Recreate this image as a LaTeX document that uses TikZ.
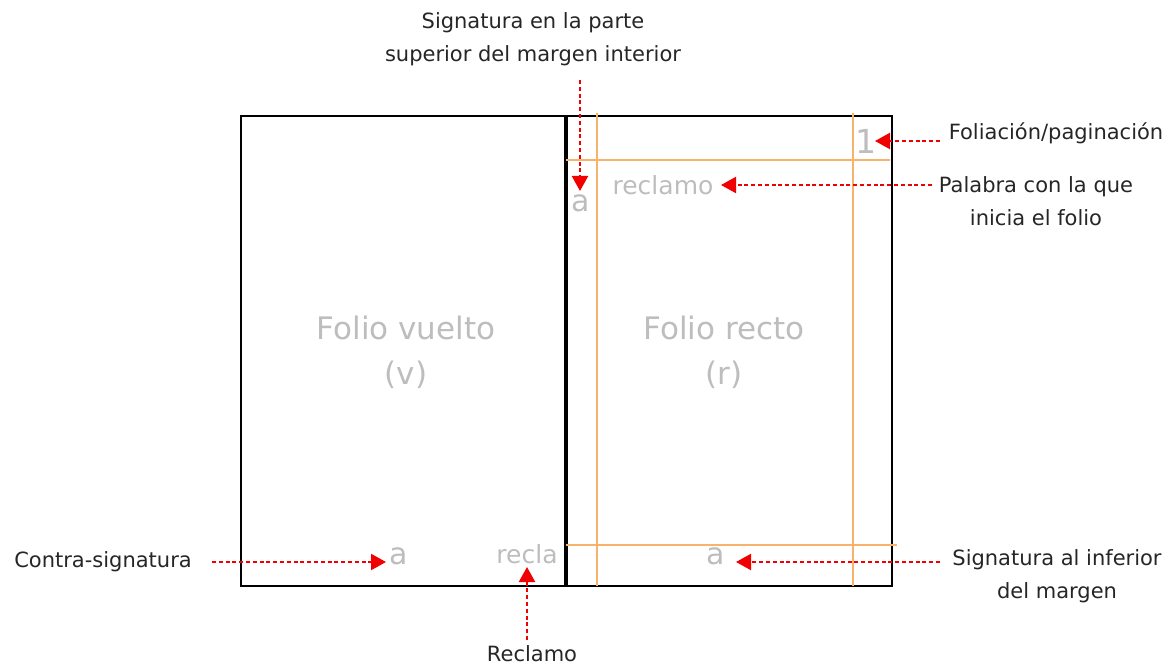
\documentclass[tikz,border=0pt]{standalone}
\usepackage{fontspec}
\setmainfont{DejaVu Sans}
\usetikzlibrary{arrows.meta}
\definecolor{guia}{HTML}{F7B26B}
\definecolor{tenue}{HTML}{BDBDBD}
\definecolor{flecha}{HTML}{F00000}
\tikzset{
  etiqueta/.style={font=\fontsize{21}{33}\selectfont, text=black!85, align=center, inner sep=0pt},
  marca/.style={font=\fontsize{30}{34}\selectfont, text=tenue, inner sep=0pt},
  palabra/.style={font=\fontsize{25}{30}\selectfont, text=tenue, inner sep=0pt},
  titulo/.style={font=\fontsize{31}{45}\selectfont, text=tenue, align=center, inner sep=0pt},
  llamada/.style={flecha, line width=2.2pt, dash pattern=on 4pt off 2.8pt,
    -{Triangle[length=15pt,width=16pt]}},
}
\begin{document}
\begin{tikzpicture}[x=1pt, y=-1pt]
        \useasboundingbox (0,0) rectangle (1173,666);

        % Hojas
        \draw[line width=1.6pt] (241,116) rectangle (892,586);
        \draw[line width=3.6pt] (566,116) -- (566,586);

        % Guias de margen
        \draw[guia, line width=1.2pt] (597,113) -- (597,586);
        \draw[guia, line width=1.2pt] (853,113) -- (853,586);
        \draw[guia, line width=1.2pt] (566,160) -- (890,160);
        \draw[guia, line width=1.2pt] (566,545) -- (897,545);

        % Textos de las hojas
        \node[titulo] (vuelto) at (406,352) {Folio vuelto\\(v)};
        \node[titulo] (recto) at (724,352) {Folio recto\\(r)};
        \node[marca, font=\fontsize{33}{36}\selectfont] (uno) at (866,141) {1};
        \node[palabra] (reclamo) at (663,185) {reclamo};
        \node[marca] (sigsup) at (581,203) {a};
        \node[marca] (contra) at (399,556) {a};
        \node[palabra] (recla) at (527,554) {recla};
        \node[marca] (siginf) at (716,556) {a};

        % Etiquetas
        \node[etiqueta] (lsigsup) at (533,39) {Signatura en la parte\\superior del margen interior};
        \node[etiqueta] (lfol) at (1056,133) {Foliación/paginación};
        \node[etiqueta] (lpal) at (1036,201) {Palabra con la que\\inicia el folio};
        \node[etiqueta] (lcontra) at (103,562) {Contra-signatura};
        \node[etiqueta] (lrecl) at (532,654) {Reclamo};
        \node[etiqueta] (lsiginf) at (1057,576) {Signatura al inferior\\del margen};

        % Puntos de las flechas
        \coordinate (a1) at (580,80);   \coordinate (b1) at (580,191);
        \coordinate (a2) at (940,141);  \coordinate (b2) at (875,141);
        \coordinate (a3) at (932,185);  \coordinate (b3) at (721,185);
        \coordinate (a4) at (212,562);  \coordinate (b4) at (386,562);
        \coordinate (a5) at (527,640);  \coordinate (b5) at (527,567);
        \coordinate (a6) at (940,562);  \coordinate (b6) at (736,562);

        % Flechas
        \draw[llamada] (a1) -- (b1);
        \draw[llamada] (a2) -- (b2);
        \draw[llamada] (a3) -- (b3);
        \draw[llamada] (a4) -- (b4);
        \draw[llamada] (a5) -- (b5);
        \draw[llamada] (a6) -- (b6);
    \end{tikzpicture}
\end{document}
